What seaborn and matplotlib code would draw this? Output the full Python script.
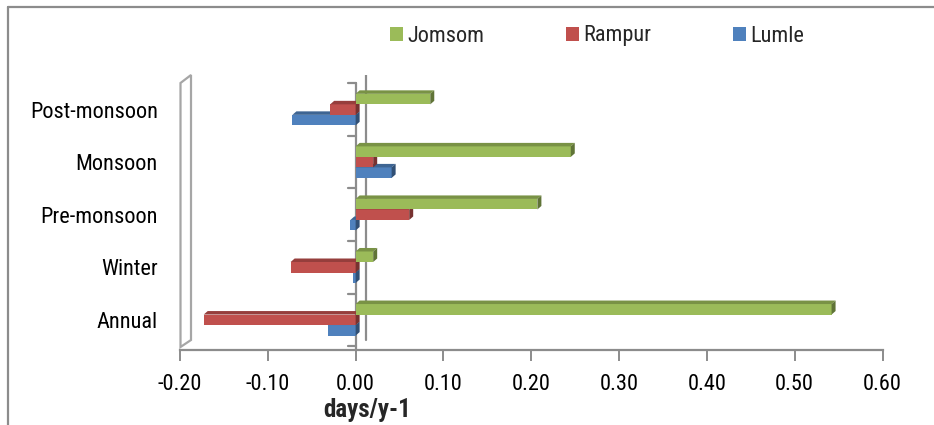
import matplotlib
matplotlib.use("Agg")
import matplotlib.pyplot as plt
from matplotlib.patches import Polygon, Patch
from matplotlib.lines import Line2D
import matplotlib.colors as mcolors
import numpy as np
import pandas as pd
import seaborn as sns

# Trend values (days/y-1) per season and station
categories = ["Post-monsoon", "Monsoon", "Pre-monsoon", "Winter", "Annual"]
stations = ["Jomsom", "Rampur", "Lumle"]
jomsom = [0.085, 0.245, 0.207, 0.020, 0.542]
rampur = [-0.029, 0.020, 0.061, -0.074, -0.173]
lumle = [-0.072, 0.041, -0.006, -0.003, -0.032]
x_ticks = [-0.20, -0.10, 0.00, 0.10, 0.20, 0.30, 0.40, 0.50, 0.60]
colors = {"Jomsom": "#9BBB59", "Rampur": "#C0504D", "Lumle": "#4F81BD"}

df = pd.DataFrame({
    "season": categories * 3,
    "station": ["Jomsom"] * 5 + ["Rampur"] * 5 + ["Lumle"] * 5,
    "value": jomsom + rampur + lumle,
})

sns.set_style("white")
plt.rcParams["font.family"] = ["Roboto Condensed", "Liberation Sans", "DejaVu Sans"]
plt.rcParams["font.stretch"] = "condensed"
FS = 16

W, H = 934, 425
fig = plt.figure(figsize=(W / 100, H / 100), dpi=100)

# plot area in pixels
px_left, px_right, px_bottom, px_top = 180, 882.5, 350, 75
ax = fig.add_axes([px_left / W, 1 - px_bottom / H,
                   (px_right - px_left) / W, (px_bottom - px_top) / H])

sns.barplot(data=df, y="season", x="value", hue="station", order=categories,
            hue_order=stations, palette=colors, orient="h", width=0.6,
            saturation=1, dodge=True, legend=False, ax=ax)

# pixel <-> data helpers
xpx_per_unit = (px_right - px_left) / 0.8
cat0_px, cat_step = 109.6, 52.55
def ypx(v):
    return (v - cat0_px) / cat_step
def xpx(p):
    return -0.2 + (p - px_left) / xpx_per_unit

ax.set_xlim(-0.2, 0.6)
ax.set_ylim(ypx(px_bottom), ypx(px_top))

# 3-D look: top and end faces on every bar
dx = 4 / xpx_per_unit
dy = 3.5 / cat_step
z_base = {"Lumle": 2, "Rampur": 3, "Jomsom": 4}
for name, cont in zip(stations, ax.containers):
    base = mcolors.to_rgb(colors[name])
    top_c = tuple(c * 0.78 for c in base)
    side_c = tuple(c * 0.62 for c in base)
    for p in cont:
        z = z_base[name]
        p.set_zorder(z)
        p.set_edgecolor("none")
        x0 = p.get_x()
        x1 = x0 + p.get_width()
        xl, xr = min(x0, x1), max(x0, x1)
        yt = p.get_y()
        yb = yt + p.get_height()
        top = Polygon([(xl, yt), (xr, yt), (xr + dx, yt - dy), (xl + dx, yt - dy)],
                      closed=True, facecolor=top_c, edgecolor="none", zorder=z + 0.1)
        side = Polygon([(xr, yt), (xr + dx, yt - dy), (xr + dx, yb - dy), (xr, yb)],
                       closed=True, facecolor=side_c, edgecolor="none", zorder=z + 0.1)
        ax.add_patch(top)
        ax.add_patch(side)

grey = "#8C8C8C"
# back value-axis line and front category axis
ax.plot([xpx(366), xpx(366)], [ypx(75), ypx(340)], color=grey, lw=1.6, zorder=1)
ax.plot([0, 0], [ypx(83), ypx(px_bottom)], color=grey, lw=1.6, zorder=1.5)
for i in range(6):
    yb = i - 0.5
    ax.plot([xpx(348), 0], [yb, yb], color=grey, lw=1.6, zorder=1.5)

# side wall at the left edge
wall = Polygon([(xpx(180.5), ypx(347)), (xpx(180.5), ypx(83)),
                (xpx(191), ypx(75)), (xpx(191), ypx(340))],
               closed=True, facecolor="white", edgecolor="#A6A6A6", lw=1.6,
               zorder=1, clip_on=False)
ax.add_patch(wall)

for s in ["top", "right", "left"]:
    ax.spines[s].set_visible(False)
ax.spines["bottom"].set_color(grey)
ax.spines["bottom"].set_linewidth(1.6)

ax.set_xticks(x_ticks)
ax.set_xticklabels([f"{t:.2f}" for t in x_ticks])
ax.tick_params(axis="x", bottom=True, length=8, width=1.4, color=grey,
               labelsize=FS, pad=9.5, labelcolor="black")
ax.tick_params(axis="y", left=False, length=0, labelsize=FS, pad=16,
               labelcolor="black")
ax.set_xlabel("")
ax.set_ylabel("")
ax.grid(False)

fig.text(367 / W, 1 - 410 / H, "days/y-1", ha="center", va="center",
         fontsize=18, fontweight="bold")

handles = [Patch(facecolor=colors[s], edgecolor="none") for s in stations]
fig.legend(handles, stations, loc="center", bbox_to_anchor=(597 / W, 1 - 36 / H),
           ncol=3, frameon=False, fontsize=FS, handlelength=0.6, handleheight=0.6,
           handletextpad=0.2, columnspacing=3.65)

# outer frame
fig.add_artist(Line2D([8 / W, 1], [1 - 7 / H, 1 - 7 / H], color=grey, lw=1.6))
fig.add_artist(Line2D([8 / W, 8 / W], [0, 1 - 7 / H], color=grey, lw=1.6))

fig.savefig("out.png", dpi=100)
